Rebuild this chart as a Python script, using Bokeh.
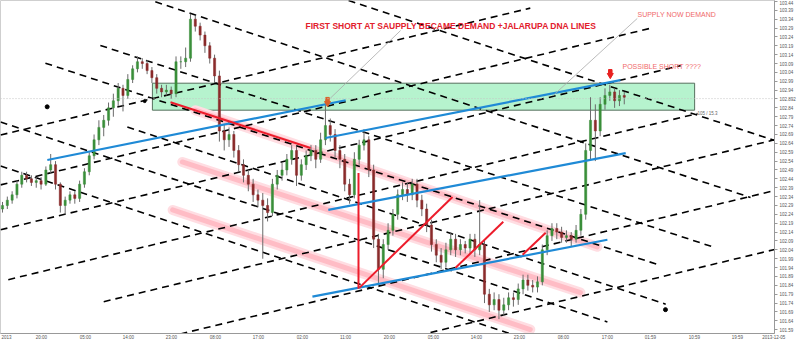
from bokeh.plotting import figure
from bokeh.models import Range1d, FixedTicker, Label, PrintfTickFormatter, Span
from bokeh.embed import file_html
from bokeh.resources import INLINE

# ---------------- candle data (hourly bars, price) ----------------
first_open = 102.27
close = [102.29,102.32,102.35,102.41,102.46,102.44,102.42,102.43,102.41,102.49,
         102.52,102.41,102.29,102.32,102.35,102.33,102.41,102.48,102.57,102.66,
         102.73,102.77,102.84,102.88,102.95,102.91,103.00,103.06,103.10,103.09,
         103.05,103.01,102.95,102.93,102.94,102.92,103.10,103.10,103.12,103.34,
         103.30,103.25,103.19,103.12,103.02,102.71,102.66,102.69,102.60,102.52,
         102.46,102.41,102.35,102.32,102.29,102.25,102.41,102.46,102.49,102.55,
         102.60,102.46,102.52,102.57,102.60,102.55,102.66,102.74,102.69,102.60,
         102.55,102.41,102.35,102.55,102.63,102.66,102.49,102.10,101.93,102.07,
         102.15,102.24,102.35,102.38,102.35,102.41,102.32,102.27,102.18,102.07,
         102.01,101.97,102.04,102.10,102.04,102.07,102.05,102.10,102.04,102.07,
         101.79,101.73,101.76,101.70,101.73,101.77,101.76,101.82,101.87,101.84,
         101.83,101.86,102.04,102.12,102.16,102.14,102.11,102.12,102.10,102.15,
         102.24,102.60,102.77,102.71,102.86,102.91,102.93,102.88,102.91,102.90]
high = [102.31,102.34,102.37,102.43,102.48,102.48,102.46,102.45,102.45,102.51,
        102.58,102.54,102.42,102.34,102.37,102.37,102.43,102.50,102.59,102.69,
        102.77,102.80,102.87,102.92,102.98,102.97,103.03,103.08,103.13,103.12,
        103.11,103.07,103.03,102.97,102.97,102.96,103.13,103.13,103.18,103.37,
        103.36,103.32,103.27,103.21,103.14,103.05,102.75,102.73,102.71,102.63,
        102.55,102.49,102.44,102.38,102.36,102.33,102.44,102.49,102.53,102.58,
        102.63,102.62,102.55,102.60,102.63,102.63,102.70,102.88,102.78,102.72,
        102.63,102.58,102.44,102.59,102.66,102.72,102.68,102.52,102.13,102.10,
        102.19,102.27,102.38,102.42,102.42,102.44,102.44,102.35,102.30,102.21,
        102.10,102.05,102.08,102.14,102.13,102.10,102.09,102.13,102.13,102.32,
        102.10,101.82,101.80,101.79,101.77,101.80,101.80,101.85,101.90,101.90,
        101.87,101.89,102.07,102.15,102.19,102.19,102.17,102.15,102.14,102.18,
        102.27,102.64,102.90,102.86,102.90,102.95,102.97,102.95,102.94,102.93]
low = [102.25,102.27,102.30,102.33,102.39,102.42,102.40,102.39,102.38,102.40,
       102.47,102.38,102.25,102.24,102.30,102.30,102.31,102.39,102.46,102.55,
       102.63,102.68,102.74,102.79,102.85,102.82,102.89,102.98,103.04,103.06,
       103.03,102.98,102.92,102.90,102.91,102.89,102.90,103.06,103.07,103.10,
       103.27,103.22,103.15,103.09,102.98,102.65,102.60,102.62,102.56,102.48,
       102.42,102.37,102.31,102.28,101.99,102.20,102.23,102.38,102.43,102.46,
       102.52,102.40,102.43,102.49,102.54,102.50,102.53,102.63,102.65,102.56,
       102.50,102.37,102.30,102.33,102.52,102.60,102.45,102.05,101.83,101.88,
       102.04,102.12,102.21,102.32,102.31,102.32,102.28,102.23,102.14,102.03,
       101.97,101.93,101.94,102.01,102.00,102.01,102.02,102.02,102.00,102.01,
       101.74,101.69,101.70,101.65,101.67,101.70,101.72,101.73,101.79,101.81,
       101.80,101.80,101.84,102.01,102.09,102.10,102.08,102.08,102.06,102.08,
       102.12,102.21,102.55,102.54,102.68,102.83,102.88,102.84,102.85,102.86]

# ---------------- axis ticks ----------------
y_ticks = [101.59,101.64,101.69,101.74,101.79,101.84,101.89,101.94,101.99,102.04,
           102.09,102.14,102.19,102.24,102.29,102.34,102.39,102.44,102.49,102.54,
           102.59,102.64,102.69,102.74,102.79,102.84,102.89,102.94,102.99,103.04,
           103.09,103.14,103.19,103.24,103.29,103.34,103.39,103.44]
last_price = 102.892
x_tick_pos = [0.83, 8.09, 17.22, 26.14, 35.06, 44.19, 53.11, 62.24, 71.16, 80.29,
              89.42, 98.34, 107.26, 116.39, 125.52, 134.44, 143.57, 152.49, 160.0]
x_tick_labels = ["2013", "20:00", "05:00", "14:00", "23:00", "08:00", "17:00", "02:00",
                 "11:00", "20:00", "05:00", "14:00", "23:00", "08:00", "17:00",
                 "01:59", "10:59", "19:59", "2013-12-05"]

# ---------------- drawn objects (bar index, price) ----------------
dash_x0 = [71.8, 31.7, 20.3, 8.9, 25.9, -0.4, -0.4, -0.4, -0.4, -0.4, 1.2, 21.0, 36.9, 88.8]
dash_y0 = [103.445, 103.438, 103.192, 103.092, 102.732, 102.760, 102.512,
           102.687, 102.406, 102.153, 101.872, 101.748, 101.566, 101.574]
dash_x1 = [160.2, 155.2, 147.9, 136.5, 137.6, 125.5, 105.4,
           109.5, 135.1, 140.7, 144.2, 160.2, 160.2, 160.2]
dash_y1 = [102.656, 102.335, 102.052, 101.952, 101.734, 101.634, 101.567,
           103.402, 103.293, 103.078, 102.808, 102.660, 102.374, 102.042]

blue_x0 = [9.3, 67.0, 67.6, 64.3]
blue_y0 = [102.546, 102.670, 102.265, 101.776]
blue_x1 = [71.2, 128.2, 129.3, 125.5]
blue_y1 = [102.883, 102.996, 102.585, 102.097]

red_x0 = [34.85, 73.86, 74.07, 94.0, 107.9]
red_y0 = [102.872, 102.473, 101.827, 101.939, 102.012]
red_x1 = [63.9, 73.86, 93.36, 103.9, 112.7]
red_y1 = [102.614, 101.821, 102.338, 102.198, 102.136]

pink_x0 = [40.0, 37.3, 35.3]
pink_y0 = [102.827, 102.535, 102.265]
pink_x1 = [123.4, 119.9, 109.5]
pink_y1 = [102.057, 101.799, 101.591]

zone_left, zone_right = [31.1], [143.6]
zone_top, zone_bottom = [102.979], [102.827]

ptr_x0 = [82.6, 131.7]
ptr_y0 = [103.276, 103.344]
ptr_x1 = [68.0, 114.3]
ptr_y1 = [102.894, 102.911]

dot_x = [9.27, 137.55, 29.5]
dot_y = [102.846, 101.703, 102.878]
dot_size = [4, 4, 3]

arrow_x = [67.43, 126.1]
arrow_tip_y = [102.866, 103.024]
arrow_stem_y = [102.889, 103.046]
arrow_color = ["#d9622b", "#e82020"]

# ---------------- figure ----------------
p = figure(width=800, height=342, x_range=Range1d(-0.415, 160.17),
           y_range=Range1d(101.5686, 103.445), y_axis_location="right",
           output_backend="svg", toolbar_location=None,
           min_border_left=0, min_border_top=0, min_border_right=26, min_border_bottom=8)
p.xgrid.visible = False
p.ygrid.visible = False
p.outline_line_color = "#cfcfcf"
p.background_fill_color = "white"
p.border_fill_color = "white"

ya = p.yaxis[0]
ya.ticker = FixedTicker(ticks=y_ticks)
ya.formatter = PrintfTickFormatter(format="%.2f")
ya.major_label_overrides = {102.89: "%.3f" % last_price}
ya.major_label_text_font_size = "4.5px"
ya.major_label_text_color = "#555555"
ya.major_label_text_font = "Liberation Sans"
ya.major_tick_out = 3
ya.major_tick_in = 0
ya.minor_tick_out = 0
ya.minor_tick_in = 0
ya.major_label_standoff = 2
ya.axis_line_color = "#999999"
ya.major_tick_line_color = "#999999"

xa = p.xaxis[0]
xa.ticker = FixedTicker(ticks=x_tick_pos)
xa.major_label_overrides = {pos: lab for pos, lab in zip(x_tick_pos, x_tick_labels)}
xa.major_label_text_font_size = "4.5px"
xa.major_label_text_color = "#555555"
xa.major_label_text_font = "Liberation Sans"
xa.major_tick_out = 0
xa.major_tick_in = 0
xa.minor_tick_out = 0
xa.minor_tick_in = 0
xa.major_label_standoff = 1
xa.axis_line_color = "#999999"

# supply/demand zone
p.quad(left=zone_left, right=zone_right, top=zone_top, bottom=zone_bottom,
       fill_color="#aef2c9", fill_alpha=0.9, line_color="#56705e", line_width=1)

# current price line
p.add_layout(Span(location=last_price, dimension="width", line_color="#c4c4c4",
                  line_dash="1 2", line_width=1))

# pink channel bands
p.segment(x0=pink_x0, y0=pink_y0, x1=pink_x1, y1=pink_y1, line_color="#ffdde2",
          line_width=10, line_cap="round")
p.segment(x0=pink_x0, y0=pink_y0, x1=pink_x1, y1=pink_y1, line_color="#ffbcc5",
          line_width=5, line_cap="round")

# dashed grid lines
p.segment(x0=dash_x0, y0=dash_y0, x1=dash_x1, y1=dash_y1, line_color="black",
          line_width=1.6, line_dash="7 5")

# candles
bars = list(range(len(close)))
opens = [first_open] + close[:-1]
body_top = [max(o, c) for o, c in zip(opens, close)]
body_bot = [min(o, c) for o, c in zip(opens, close)]
colors = ["#3a8f3a" if c >= o else "#8a2b2b" for o, c in zip(opens, close)]
p.segment(x0=bars, y0=high, x1=bars, y1=low, line_color="#6a6a6a", line_width=1)
p.vbar(x=bars, width=0.45, top=body_top, bottom=body_bot, fill_color=colors,
       line_color=colors, line_width=0.5)

# blue and red trend lines
p.segment(x0=blue_x0, y0=blue_y0, x1=blue_x1, y1=blue_y1, line_color="#1f8ad6",
          line_width=2.2)
p.segment(x0=red_x0, y0=red_y0, x1=red_x1, y1=red_y1, line_color="#ec1c2b",
          line_width=2)

# pointer lines
p.segment(x0=ptr_x0, y0=ptr_y0, x1=ptr_x1, y1=ptr_y1, line_color="#aaaaaa",
          line_width=0.8)

# dots
p.scatter(x=dot_x, y=dot_y, size=dot_size, color="black")

# arrows
p.scatter(x=arrow_x, y=arrow_stem_y, marker="square", size=3.5, color=arrow_color)
p.scatter(x=arrow_x, y=arrow_tip_y, marker="inverted_triangle", size=6, color=arrow_color)

# texts
p.add_layout(Label(x=62.86, y=103.299, text="FIRST SHORT AT SAUPPLY BECAME DEMAND +JALARUPA DNA LINES",
                   text_font="Liberation Sans", text_font_size="8.5px", text_font_style="bold",
                   text_color="#e2202c", text_baseline="middle", text_align="left"))
p.add_layout(Label(x=131.74, y=103.366, text="SUPPLY NOW DEMAND",
                   text_font="Liberation Sans", text_font_size="7px",
                   text_color="#f06a6a", text_baseline="middle", text_align="left"))
p.add_layout(Label(x=128.63, y=103.074, text="POSSIBLE SHORT ????",
                   text_font="Liberation Sans", text_font_size="7px",
                   text_color="#f06a6a", text_baseline="middle", text_align="left"))
p.add_layout(Label(x=144.19, y=102.810, text="105 / 15.3",
                   text_font="Liberation Sans", text_font_size="4.5px",
                   text_color="#666666", text_baseline="middle", text_align="left"))

open("out.html", "w").write(file_html(p, INLINE))
